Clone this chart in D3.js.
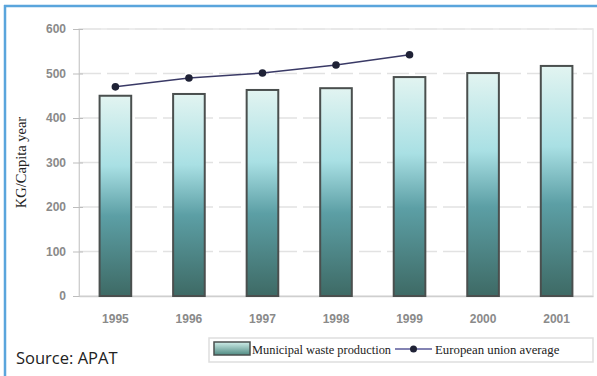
<!DOCTYPE html>
<html>
<head>
<meta charset="utf-8">
<script src="https://cdnjs.cloudflare.com/ajax/libs/d3/7.8.5/d3.min.js"></script>
<style>
  body { margin: 0; background: #fff; }
  svg { display: block; }
</style>
</head>
<body>
<div id="chart"></div>
<script>
// data
const years = ["1995", "1996", "1997", "1998", "1999", "2000", "2001"];
const municipalWaste = [450, 454, 463, 467, 492, 501, 517];
const euYears = ["1995", "1996", "1997", "1998", "1999"];
const euAverage = [470, 490, 501, 519, 542];
const yTicks = [0, 100, 200, 300, 400, 500, 600];

const W = 597, H = 376;
const svg = d3.select("#chart").append("svg").attr("width", W).attr("height", H);

// frame
svg.append("line").attr("x1", 4).attr("x2", W).attr("y1", 6).attr("y2", 6)
    .attr("stroke", "#5aa5dc").attr("stroke-width", 2.5);
svg.append("line").attr("x1", 5).attr("x2", 5).attr("y1", 5).attr("y2", H)
    .attr("stroke", "#5aa5dc").attr("stroke-width", 2.5);

const margin = { top: 29, right: 4, bottom: 80, left: 79 };
const width = W - margin.left - margin.right;
const height = H - margin.top - margin.bottom;

const x = d3.scaleBand().domain(years).range([0, width]).paddingInner(0.57).paddingOuter(0.28);
const y = d3.scaleLinear().domain([0, 600]).range([height, 0]);

const defs = svg.append("defs");
const grad = defs.append("linearGradient").attr("id", "barGrad")
    .attr("x1", 0).attr("y1", 0).attr("x2", 0).attr("y2", 1);
grad.append("stop").attr("offset", "0%").attr("stop-color", "#e2f4f1");
grad.append("stop").attr("offset", "35%").attr("stop-color", "#a9e0e4");
grad.append("stop").attr("offset", "60%").attr("stop-color", "#5c9fa5");
grad.append("stop").attr("offset", "100%").attr("stop-color", "#3e6a65");

const lgGrad = defs.append("linearGradient").attr("id", "legGrad")
    .attr("x1", 0).attr("y1", 0).attr("x2", 0).attr("y2", 1);
lgGrad.append("stop").attr("offset", "0%").attr("stop-color", "#cfeee9");
lgGrad.append("stop").attr("offset", "100%").attr("stop-color", "#4f8a82");

const g = svg.append("g").attr("transform", `translate(${margin.left},${margin.top})`);

// gridlines
g.append("g")
    .selectAll("line")
    .data(yTicks.slice(1))
    .enter()
    .append("line")
    .attr("x1", 0).attr("x2", width)
    .attr("y1", d => y(d)).attr("y2", d => y(d))
    .attr("stroke", "#e2e2e2").attr("stroke-width", 1.5)
    .attr("stroke-dasharray", "22,6");

// plot frame
g.append("rect").attr("x", 0).attr("y", 0).attr("width", width).attr("height", height)
    .attr("fill", "none").attr("stroke", "#e8e8e8").attr("stroke-width", 1.5);

// y axis
const yAxis = g.append("g").call(d3.axisLeft(y).tickValues(yTicks).tickSize(5).tickPadding(8));
yAxis.select(".domain").attr("stroke", "#cfcfcf");
yAxis.selectAll(".tick line").attr("stroke", "#bdbdbd").attr("x2", -6).attr("x1", 4);
yAxis.selectAll("text").attr("fill", "#8a8a8a").style("font-family", "Arial, 'Liberation Sans', sans-serif")
    .style("font-size", "12px").style("font-weight", "bold");

// x axis
const xAxis = g.append("g").attr("transform", `translate(0,${height})`)
    .call(d3.axisBottom(x).tickSize(0).tickPadding(18));
xAxis.select(".domain").attr("stroke", "#cfcfcf").attr("stroke-width", 1.5);
xAxis.selectAll("text").attr("fill", "#8a8a8a").style("font-family", "Arial, 'Liberation Sans', sans-serif")
    .style("font-size", "12px").style("font-weight", "bold");

// bars
g.selectAll(".bar")
    .data(years.map((yr, i) => ({ year: yr, value: municipalWaste[i] })))
    .enter()
    .append("rect")
    .attr("class", "bar")
    .attr("x", d => x(d.year))
    .attr("y", d => y(d.value))
    .attr("width", x.bandwidth())
    .attr("height", d => height - y(d.value))
    .attr("fill", "url(#barGrad)")
    .attr("stroke", "#4a4f4e")
    .attr("stroke-width", 2);

// EU average line
const euData = euYears.map((yr, i) => ({ year: yr, value: euAverage[i] }));
const line = d3.line().x(d => x(d.year) + x.bandwidth() / 2).y(d => y(d.value));
g.append("path").datum(euData).attr("fill", "none").attr("stroke", "#3a3a66")
    .attr("stroke-width", 1.5).attr("d", line);
g.selectAll(".dot")
    .data(euData)
    .enter()
    .append("circle")
    .attr("class", "dot")
    .attr("cx", d => x(d.year) + x.bandwidth() / 2)
    .attr("cy", d => y(d.value))
    .attr("r", 3.8)
    .attr("fill", "#1f2236");

// y axis title
svg.append("text")
    .attr("transform", `translate(26,${margin.top + height / 2}) rotate(-90)`)
    .attr("text-anchor", "middle")
    .style("font-family", "'Liberation Serif', 'DejaVu Serif', serif")
    .style("font-size", "14.5px")
    .attr("fill", "#222")
    .text("KG/Capita year");

// legend
const leg = svg.append("g");
leg.append("rect").attr("x", 209).attr("y", 338).attr("width", 384).attr("height", 24)
    .attr("fill", "#fff").attr("stroke", "#dedede").attr("stroke-width", 1.5);
leg.append("rect").attr("x", 214).attr("y", 342).attr("width", 36).attr("height", 13)
    .attr("fill", "url(#legGrad)").attr("stroke", "#4a4f4e").attr("stroke-width", 1.5);
leg.append("text").attr("x", 252).attr("y", 354)
    .style("font-family", "'Liberation Serif', 'DejaVu Serif', serif").style("font-size", "12.4px")
    .attr("fill", "#222").text("Municipal waste production");
leg.append("line").attr("x1", 395).attr("x2", 432).attr("y1", 349).attr("y2", 349)
    .attr("stroke", "#5a5a9a").attr("stroke-width", 1.5);
leg.append("circle").attr("cx", 413.5).attr("cy", 349).attr("r", 3.5).attr("fill", "#1f2236");
leg.append("text").attr("x", 435).attr("y", 354)
    .style("font-family", "'Liberation Serif', 'DejaVu Serif', serif").style("font-size", "12.8px")
    .attr("fill", "#222").text("European union average");

// source
svg.append("text").attr("x", 16).attr("y", 364)
    .style("font-family", "'Open Sans', 'Noto Sans', sans-serif").style("font-size", "16.5px")
    .attr("fill", "#222").text("Source: APAT");
</script>
</body>
</html>
